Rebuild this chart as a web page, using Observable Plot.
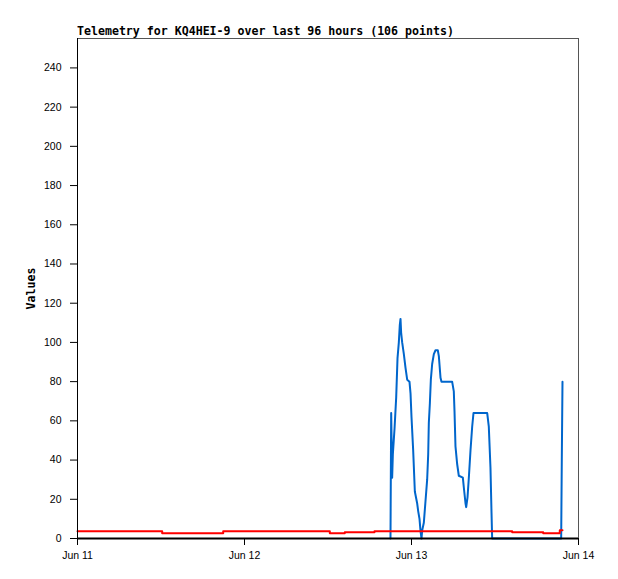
<!DOCTYPE html>
<html><head><meta charset="utf-8">
<script src="https://cdn.jsdelivr.net/npm/d3@7"></script>
<script src="https://cdn.jsdelivr.net/npm/@observablehq/plot@0.6"></script>
<style>
body{margin:0;background:#fff;}
#wrap{position:relative;width:618px;height:579px;}
#title{position:absolute;left:77px;top:24px;font:bold 11.6px "DejaVu Sans Mono",monospace;white-space:pre;color:#000;line-height:normal;}
</style></head><body>
<div id="wrap"><div id="title">Telemetry for KQ4HEI-9 over last 96 hours (106 points)</div></div>
<script>
const startDay = "2024-06-11";
const dayTicks = ["2024-06-11", "2024-06-12", "2024-06-13", "2024-06-14"];
const yTicks = [0, 20, 40, 60, 80, 100, 120, 140, 160, 180, 200, 220, 240];
const yLabel = "Values";

// hours after Jun 11 00:00
const blueHours = [44.98, 45.08, 45.22, 45.32, 45.56, 45.80, 45.99, 46.18, 46.32, 46.42, 46.51, 46.66, 46.90, 47.14, 47.38, 47.71, 47.86, 48.00, 48.24, 48.48, 48.81, 48.96, 49.15, 49.29, 49.44, 49.53, 49.77, 50.01, 50.25, 50.40, 50.49, 50.64, 50.78, 50.97, 51.21, 51.45, 51.78, 51.93, 52.17, 52.31, 53.84, 54.08, 54.18, 54.32, 54.56, 54.80, 55.38, 55.52, 55.76, 55.86, 56.05, 56.24, 56.48, 56.72, 56.91, 58.88, 59.11, 59.35, 59.50, 59.59, 69.51, 69.60, 69.70];
const blueValues = [0, 64, 31, 43, 56, 72, 92, 100, 109, 112, 105, 100, 94, 87, 81, 80, 74, 62, 45, 24, 18, 14, 10, 4, 0, 4, 8, 19, 30, 43, 59, 69, 81, 89, 94, 96, 96, 93, 82, 80, 80, 75, 65, 47, 38, 32, 31, 26, 18, 16, 21, 31, 45, 57, 64, 64, 57, 36, 13, 0, 0, 40, 80];

const redHours = [0, 12.17, 20.94, 36.26, 38.41, 42.68, 62.47, 66.93, 69.31, 69.70];
const redValues = [3.7, 2.7, 3.7, 2.7, 3.2, 3.7, 3.2, 2.7, 4.2, 4.2];

const t0 = new Date(startDay + "T00:00:00Z");
const toDate = h => new Date(t0.getTime() + h * 3600e3);
const dayDates = dayTicks.map(s => new Date(s + "T00:00:00Z"));
const blue = blueHours.map((h, i) => ({date: toDate(h), value: blueValues[i]}));
const red = redHours.map((h, i) => ({date: toDate(h), value: redValues[i]}));

const chart = Plot.plot({
  width: 618, height: 579,
  marginLeft: 77, marginRight: 40, marginTop: 38, marginBottom: 41,
  style: {fontFamily: "'Liberation Sans', Arial, sans-serif", fontSize: "10.5px", background: "white", color: "black"},
  x: {type: "utc", domain: [dayDates[0], dayDates[dayDates.length - 1]]},
  y: {domain: [0, 255]},
  marks: [
    Plot.frame({stroke: "#555"}),
    Plot.axisY({ticks: yTicks, tickSize: 7, tickPadding: 9, label: null}),
    Plot.axisX({ticks: dayDates, tickFormat: d3.utcFormat("%b %d"), tickSize: 7, tickPadding: 6, label: null}),
    Plot.line(blue, {x: "date", y: "value", stroke: "#0066cc", strokeWidth: 2}),
    Plot.line(red, {x: "date", y: "value", curve: "step-after", stroke: "#ff0000", strokeWidth: 2}),
    Plot.ruleY([0], {stroke: "black", strokeWidth: 2}),
    Plot.ruleX([dayDates[0]], {stroke: "black", strokeWidth: 1}),
    Plot.text([yLabel], {text: d => d, frameAnchor: "left", textAnchor: "middle", dx: -46, rotate: -90, fontWeight: "bold", fontFamily: "'DejaVu Sans Mono', monospace", fontSize: 11.6})
  ]
});
document.getElementById("wrap").appendChild(chart);
</script>
</body></html>
